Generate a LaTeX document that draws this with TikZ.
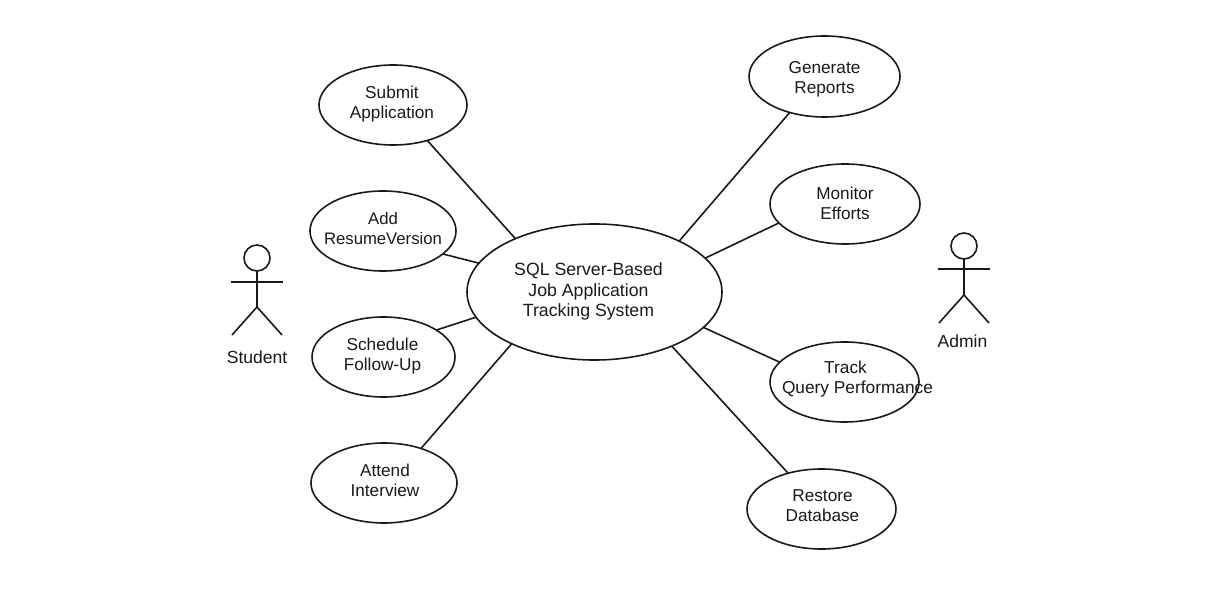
\documentclass[tikz,border=0pt]{standalone}
\usepackage{fontspec}
\setmainfont{Liberation Sans}
\usetikzlibrary{shapes.geometric}
\tikzset{
  line/.style={line width=1.6pt,black!90},
  uc/.style n args={4}{ellipse,draw,line width=1.6pt,black!90,inner sep=0pt,outer sep=0pt,minimum width=148pt,minimum height=80pt,
    label={[align=center,text=black!90,font=\fontsize{#4}{20}\selectfont,xshift=#2pt,yshift=#3pt]center:{#1}}},
  head/.style={circle,draw,line width=1.6pt,black!90,inner sep=0pt,outer sep=0pt,minimum size=26pt},
  actorlabel/.style={inner sep=0pt,text=black!90,font=\fontsize{17.5}{20}\selectfont},
}
\begin{document}
\begin{tikzpicture}[x=1pt,y=-1pt]
\useasboundingbox (0,0) rectangle (1210,593);
\node[uc={SQL Server-Based\\[0.5pt]Job Application\\[0.5pt]Tracking System}{-6}{0.5}{17.7},minimum width=255pt,minimum height=136pt] (sys) at (594.5,292) {};
\node[uc={Submit\\Application}{-1}{0.5}{17.2}] (submit) at (393,105) {};
\node[uc={Add\\ResumeVersion}{0}{2}{16.7},minimum width=146pt] (add) at (383,231) {};
\node[uc={Schedule\\Follow-Up}{-1}{1}{17.2},minimum width=143pt] (sched) at (383.5,357) {};
\node[uc={Attend\\Interview}{1}{3}{17.2},minimum width=146pt] (attend) at (384,483) {};
\node[uc={Generate\\Reports}{0}{-3}{17.2},minimum width=151pt,minimum height=81pt] (gen) at (824.5,76.5) {};
\node[uc={Monitor\\Efforts}{0}{1}{17.2},minimum width=150pt] (mon) at (845,204) {};
\node[uc={Track\hspace*{24pt}\\Query Performance}{13}{3}{17.3},minimum width=149pt] (track) at (844.5,382) {};
\node[uc={Restore\\Database}{1}{3}{17.2},minimum width=149pt] (restore) at (821.5,509) {};
\draw[line] (submit.-46.5) -- (sys.146.8);
\draw[line] (add.-21.5) -- (sys.166.2);
\draw[line] (sched.27) -- (sys.192.5);
\draw[line] (attend.43.4) -- (sys.212.9);
\draw[line] (gen.226.5) -- (sys.31.2);
\draw[line] (mon.196) -- (sys.17.6);
\draw[line] (track.163.3) -- (sys.-18.4);
\draw[line] (restore.133.5) -- (sys.-35.4);
% Student
\node[head] (sh) at (257,258) {};
\coordinate (shl) at (231,282);
\coordinate (shr) at (283,282);
\coordinate (shp) at (257,307);
\coordinate (sll) at (232,335);
\coordinate (slr) at (282,335);
\draw[line] (sh.south) -- (shp);
\draw[line] (shl) -- (shr);
\draw[line] (sll) -- (shp) -- (slr);
\node[actorlabel] (student) at (257,357) {Student};
% Admin
\node[head] (ah) at (964,246) {};
\coordinate (ahl) at (938,269);
\coordinate (ahr) at (990,269);
\coordinate (ahp) at (964,295);
\coordinate (all) at (939,323);
\coordinate (alr) at (989,323);
\draw[line] (ah.south) -- (ahp);
\draw[line] (ahl) -- (ahr);
\draw[line] (all) -- (ahp) -- (alr);
\node[actorlabel] (admin) at (962.5,341) {Admin};
\end{tikzpicture}
\end{document}
